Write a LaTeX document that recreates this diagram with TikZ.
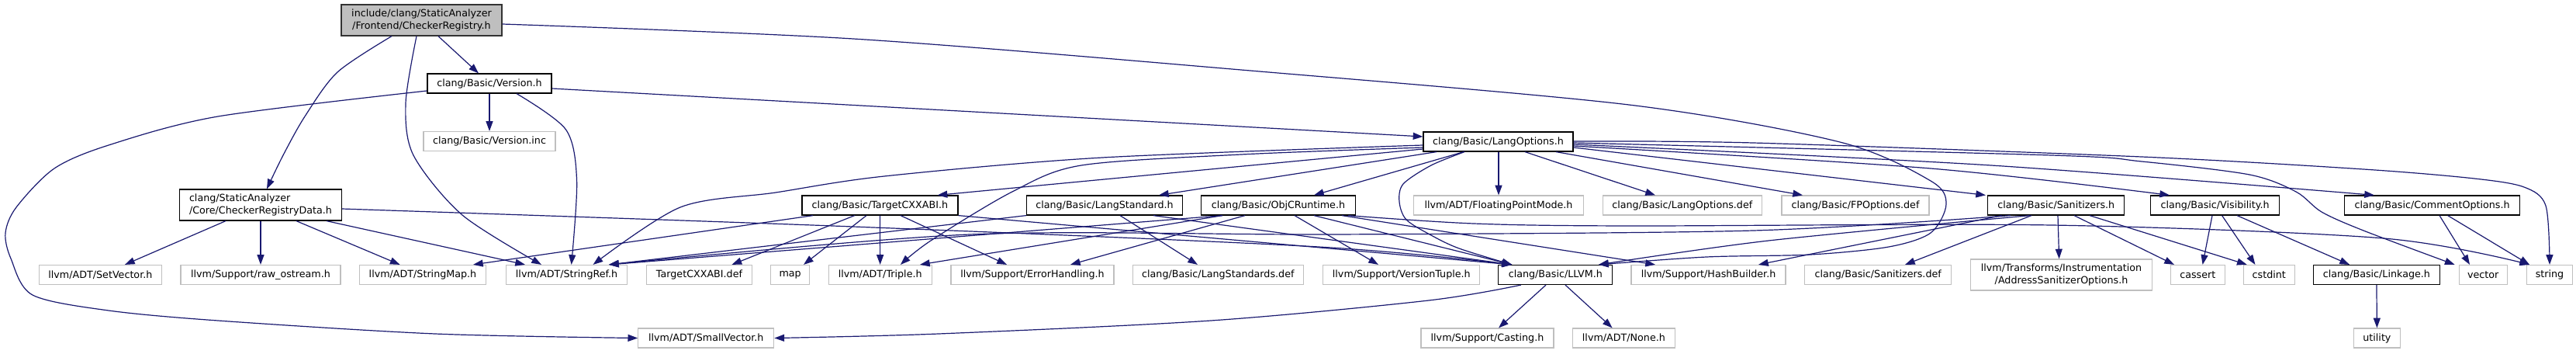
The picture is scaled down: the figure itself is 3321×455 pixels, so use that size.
\documentclass[tikz,border=0pt]{standalone}
\usepackage{fontspec}
\setmainfont{DejaVu Sans}
\usetikzlibrary{arrows.meta}
\definecolor{edgeblue}{HTML}{191970}
\definecolor{grayb}{HTML}{BFBFBF}
\begin{document}
\begin{tikzpicture}[x=1pt,y=-1pt,
  nbase/.style={rectangle, inner sep=0pt, minimum height=25pt, fill=white, line width=1.2pt,
    font=\fontsize{12.7pt}{16pt}\selectfont, text=black},
  doc/.style={nbase, draw=black},
  und/.style={nbase, draw=grayb},
  rootn/.style={nbase, draw=black!80, fill=grayb},
  edg/.style={draw=edgeblue, line width=1.2pt, -{Triangle[length=12.7pt,width=9pt]}},
]
\fill[white] (0,0) rectangle (3321,455);
\useasboundingbox (0,0) rectangle (3321,455);

% top
\node[rootn, minimum width=207pt, minimum height=40pt, align=center] (root) at (543.5,26) {include/clang/StaticAnalyzer\\/Frontend/CheckerRegistry.h};
\node[doc, minimum width=160pt] (ver) at (631,107.5) {clang/Basic/Version.h};
\node[und, minimum width=170pt] (verinc) at (631,182) {clang/Basic/Version.inc};
\node[doc, minimum width=209pt, minimum height=40pt, align=left] (crd) at (336,264) {clang/StaticAnalyzer\\/Core/CheckerRegistryData.h};
\node[doc, minimum width=193pt] (lopt) at (1931.5,182.5) {clang/Basic/LangOptions.h};
% middle row
\node[doc, minimum width=201pt] (tcxx) at (1134.4,264.5) {clang/Basic/TargetCXXABI.h};
\node[doc, minimum width=201pt] (lstd) at (1424,264.5) {clang/Basic/LangStandard.h};
\node[doc, minimum width=198.5pt] (objc) at (1648,264.5) {clang/Basic/ObjCRuntime.h};
\node[und, minimum width=219.5pt] (fpm) at (1932,264.5) {llvm/ADT/FloatingPointMode.h};
\node[und, minimum width=205pt] (lodef) at (2168.8,264.5) {clang/Basic/LangOptions.def};
\node[und, minimum width=190pt] (fpdef) at (2392,264.5) {clang/Basic/FPOptions.def};
\node[doc, minimum width=175.7pt] (san) at (2650.7,264.5) {clang/Basic/Sanitizers.h};
\node[doc, minimum width=166.5pt] (vis) at (2855.6,264.5) {clang/Basic/Visibility.h};
\node[doc, minimum width=226.5pt] (comm) at (3135.6,264.5) {clang/Basic/CommentOptions.h};
% bottom row
\node[und, minimum width=158pt] (setvec) at (129.4,354) {llvm/ADT/SetVector.h};
\node[und, minimum width=206pt] (rawos) at (336,354) {llvm/Support/raw\_ostream.h};
\node[und, minimum width=163pt] (smap) at (545,354) {llvm/ADT/StringMap.h};
\node[und, minimum width=156pt] (sref) at (730.6,354) {llvm/ADT/StringRef.h};
\node[und, minimum width=136pt] (tdef) at (901.5,354) {TargetCXXABI.def};
\node[und, minimum width=50pt] (nmap) at (1018.6,354) {map};
\node[und, minimum width=133pt] (triple) at (1134.7,354) {llvm/ADT/Triple.h};
\node[und, minimum width=210pt] (errh) at (1331,354) {llvm/Support/ErrorHandling.h};
\node[und, minimum width=220pt] (lsdef) at (1570.3,354) {clang/Basic/LangStandards.def};
\node[und, minimum width=202pt] (vtup) at (1806.8,354) {llvm/Support/VersionTuple.h};
\node[doc, minimum width=147pt] (llvm) at (2005.3,354) {clang/Basic/LLVM.h};
\node[und, minimum width=199pt] (hash) at (2202.5,354) {llvm/Support/HashBuilder.h};
\node[und, minimum width=189pt] (sdef) at (2421.2,354) {clang/Basic/Sanitizers.def};
\node[und, minimum width=234pt, minimum height=40pt, align=center] (asan) at (2657.5,354) {llvm/Transforms/Instrumentation\\/AddressSanitizerOptions.h};
\node[und, minimum width=70pt] (cassert) at (2833.3,354) {cassert};
\node[und, minimum width=66pt] (cstdint) at (2925.3,354) {cstdint};
\node[doc, minimum width=163pt] (linkage) at (3063.9,354) {clang/Basic/Linkage.h};
\node[und, minimum width=62pt] (nvector) at (3201.2,354) {vector};
\node[und, minimum width=59pt] (nstring) at (3287,354) {string};
% lowest row
\node[und, minimum width=175pt] (smallvec) at (910.3,435.5) {llvm/ADT/SmallVector.h};
\node[und, minimum width=171pt] (casting) at (1917.5,435.5) {llvm/Support/Casting.h};
\node[und, minimum width=132pt] (nnone) at (2093.4,435.5) {llvm/ADT/None.h};
\node[und, minimum width=60pt] (utility) at (3064.4,435.5) {utility};

% ---- edges: root
\draw[edg] ([xshift=21.5pt]root.south) -- ([xshift=-14pt]ver.north);
\draw[edg] plot[smooth] coordinates {([xshift=-38.5pt]root.south) (435,93) (393,150) (365,200) ([xshift=8pt]crd.north)};
\draw[edg] plot[smooth] coordinates {([xshift=-6.5pt]root.south) (523,133) (533,200) (596,277) ([xshift=-32.6pt]sref.north)};
\draw[edg] plot[smooth] coordinates {([yshift=-5pt]root.east) (1100,50) (1600,90) (2100,135) (2372,183) (2489,233) (2509,263) (2489,300) (2435,318) (2334,328) (2200,331) ([xshift=55.7pt]llvm.north)};

% ---- Version.h
\draw[edg] (ver.south) -- (verinc.north);
\draw[edg] plot[smooth] coordinates {([xshift=35pt]ver.south) (729.6,167) (743.6,233) ([xshift=6pt]sref.north)};
\draw[edg] ([yshift=-6.5pt]ver.east) -- ([yshift=6.5pt]lopt.west);
\draw[edg] plot[smooth] coordinates {([yshift=-9.5pt]ver.west) (281,150) (140,187) (70,217) (21,267) (7,300) (14,333) (42,380) (140,400) (281,413) (561,430) (smallvec.west)};

% ---- CheckerRegistryData.h
\draw[edg] ([xshift=-45pt]crd.south) -- ([xshift=31.6pt]setvec.north);
\draw[edg] (crd.south) -- (rawos.north);
\draw[edg] ([xshift=46pt]crd.south) -- ([xshift=-29.4pt]smap.north);
\draw[edg] ([xshift=85pt]crd.south) -- ([xshift=-53.6pt]sref.north);
\draw[edg] plot[smooth] coordinates {([yshift=-5pt]crd.east) (1100,292) (1700,318) ([xshift=-56.7pt]llvm.north)};

% ---- LangOptions.h
\draw[edg] plot[smooth] coordinates {([yshift=-4.5pt]lopt.west) (1421,203) (1140,227) (1000,248) (877,267) ([xshift=34pt]sref.north)};
\draw[edg] plot[smooth] coordinates {([yshift=-7.5pt]lopt.west) (1600,199) (1394,213) (1305,247) (1200,310) ([xshift=26.3pt]triple.north)};
\draw[edg] ([yshift=-9.5pt]lopt.west) -- ([xshift=74.2pt]tcxx.north);
\draw[edg] ([xshift=-79.5pt]lopt.south) -- ([xshift=70pt]lstd.north);
\draw[edg] ([xshift=-44.5pt]lopt.south) -- ([xshift=46pt]objc.north);
\draw[edg] ([xshift=0.5pt]lopt.south) -- (fpm.north);
\draw[edg] ([xshift=34.5pt]lopt.south) -- ([xshift=-34.8pt]lodef.north);
\draw[edg] ([xshift=74.5pt]lopt.south) -- ([xshift=-68pt]fpdef.north);
\draw[edg] ([yshift=-7.5pt]lopt.east) -- ([xshift=-90.7pt]san.north);
\draw[edg] plot[smooth] coordinates {([yshift=-5.5pt]lopt.east) (2489,217) ([xshift=-58.6pt]vis.north)};
\draw[edg] plot[smooth] coordinates {([yshift=-3.5pt]lopt.east) (2567,213) ([xshift=-74.6pt]comm.north)};
\draw[edg] plot[smooth] coordinates {([yshift=-1.5pt]lopt.east) (2645,200) (2761,208) (2900,225) (2960,247) (2993,273) (3047,297) ([xshift=-36.6pt]nvector.north)};
\draw[edg] plot[smooth] coordinates {([yshift=0.5pt]lopt.east) (2260,184) (2761,202) (3047,218) (3190,230) (3254,241) (3282,265) (nstring.north)};
\draw[edg] plot[smooth] coordinates {([xshift=-43.5pt]lopt.south) (1845,213) (1809,237) (1804,260) (1813,283) (1845,303) (1881,320) ([xshift=-56.3pt]llvm.north)};

% ---- TargetCXXABI.h
\draw[edg] ([xshift=-86.4pt]tcxx.south) -- ([xshift=65pt]smap.north);
\draw[edg] ([xshift=-32.7pt]tcxx.south) -- ([xshift=42pt]tdef.north);
\draw[edg] ([xshift=-17.4pt]tcxx.south) -- ([xshift=17.4pt]nmap.north);
\draw[edg] (tcxx.south) -- (triple.north);
\draw[edg] ([xshift=26.6pt]tcxx.south) -- ([xshift=-33pt]errh.north);
\draw[edg] (tcxx.south east) -- ([xshift=-56pt]llvm.north);

% ---- LangStandard.h
\draw[edg] (lstd.south west) -- ([xshift=54.4pt]sref.north);
\draw[edg] ([xshift=20pt]lstd.south) -- ([xshift=-26.3pt]lsdef.north);
\draw[edg] ([xshift=63pt]lstd.south) -- ([xshift=-56pt]llvm.north);

% ---- ObjCRuntime.h
\draw[edg] ([xshift=-72pt]objc.south) -- ([xshift=54.4pt]sref.north);
\draw[edg] ([xshift=-72pt]objc.south) -- ([xshift=51.3pt]triple.north);
\draw[edg] ([xshift=-43pt]objc.south) -- ([xshift=49pt]errh.north);
\draw[edg] ([xshift=21pt]objc.south) -- ([xshift=-29.8pt]vtup.north);
\draw[edg] ([xshift=46pt]objc.south) -- ([xshift=-56pt]llvm.north);
\draw[edg] ([xshift=82pt]objc.south) -- ([xshift=-68.5pt]hash.north);
\draw[edg] plot[smooth] coordinates {([xshift=90pt]objc.south) (1900,288) (2100,291) (2645,290) (3073,307) ([xshift=-26pt]nstring.north)};

% ---- Sanitizers.h
\draw[edg] ([xshift=-31.7pt]san.south) -- ([xshift=34.8pt]sdef.north);
\draw[edg] ([xshift=2.3pt]san.south) -- ([xshift=-2.9pt]asan.north);
\draw[edg] ([xshift=23.3pt]san.south) -- ([xshift=-30.3pt]cassert.north);
\draw[edg] ([xshift=43.3pt]san.south) -- ([xshift=-28.6pt]cstdint.north);
\draw[edg] ([xshift=-70pt]san.south) -- ([xshift=64.5pt]hash.north);
\draw[edg] plot[smooth] coordinates {([xshift=-33.7pt]san.south) (2280,310) ([xshift=55.7pt]llvm.north)};
\draw[edg] plot[smooth] coordinates {([xshift=-58.7pt]san.south) (2260,297) (1720,302) (1250,302) ([xshift=54.4pt]sref.north)};

% ---- Visibility.h
\draw[edg] ([xshift=-3.6pt]vis.south) -- ([xshift=6.3pt]cassert.north);
\draw[edg] ([xshift=9pt]vis.south) -- ([xshift=-17.9pt]cstdint.north);
\draw[edg] ([xshift=28.4pt]vis.south) -- ([xshift=-34.9pt]linkage.north);

% ---- CommentOptions.h
\draw[edg] ([xshift=9.4pt]comm.south) -- ([xshift=-17.2pt]nvector.north);
\draw[edg] ([xshift=20pt]comm.south) -- ([xshift=-26pt]nstring.north);

% ---- LLVM.h
\draw[edg] ([xshift=-12.3pt]llvm.south) -- ([xshift=14.5pt]casting.north);
\draw[edg] ([xshift=12.7pt]llvm.south) -- ([xshift=-14.8pt]nnone.north);
\draw[edg] plot[smooth] coordinates {([xshift=-44.6pt]llvm.south) (1841.8,387) (1561,413) (1210,430) (smallvec.east)};

% ---- Linkage.h
\draw[edg] (linkage.south) -- (utility.north);
\end{tikzpicture}
\end{document}
